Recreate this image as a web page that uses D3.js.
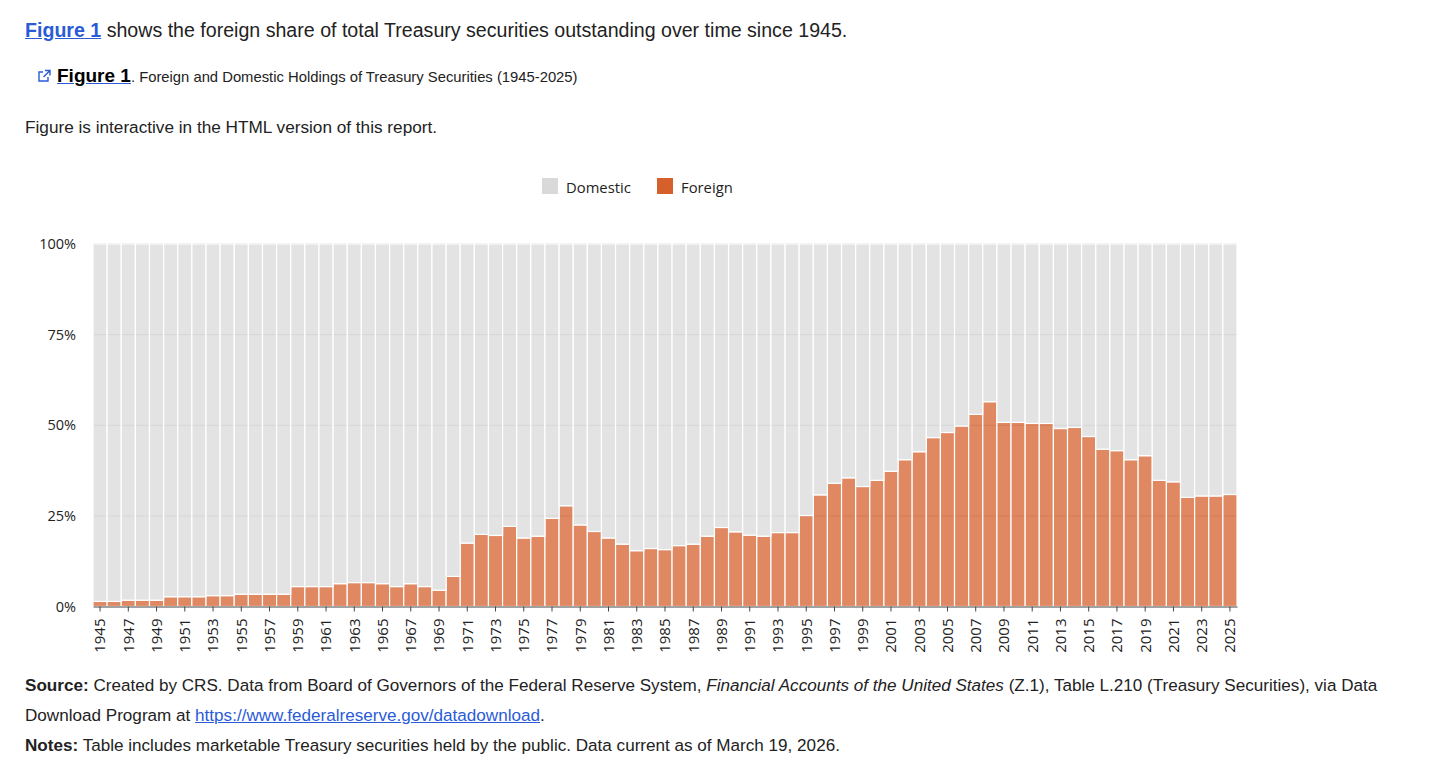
<!DOCTYPE html>
<html>
<head>
<meta charset="utf-8">
<script src="https://cdn.jsdelivr.net/npm/d3@7"></script>
<style>
  body { margin: 0; background: #fff; font-family: "Liberation Sans", Arial, sans-serif; color: #222; }
  .txt { position: absolute; white-space: nowrap; }
  a { color: #2a5bd7; text-decoration: underline; }
  #chart { position: absolute; left: 0; top: 0; }
</style>
</head>
<body>
<div class="txt" style="left:25px; top:19px; font-size:19.6px;"><a href="#"><b style="font-weight:bold">Figure 1</b></a> shows the foreign share of total Treasury securities outstanding over time since 1945.</div>
<div class="txt" style="left:37px; top:65px; font-size:14.8px;">
  <svg width="15" height="14" style="vertical-align:-1px; margin-right:5px" viewBox="0 0 15 14">
    <path d="M6 3 H2 V12 H11 V8" fill="none" stroke="#2a5bd7" stroke-width="1.4"/>
    <path d="M8 1.5 H13 V6.5 M13 1.5 L6.5 8" fill="none" stroke="#2a5bd7" stroke-width="1.4"/>
  </svg><a href="#" style="color:#000; text-decoration-color:#2a5bd7;"><b style="font-size:19px;">Figure 1</b></a>. Foreign and Domestic Holdings of Treasury Securities (1945-2025)</div>
<div class="txt" style="left:25px; top:117px; font-size:17.2px;">Figure is interactive in the HTML version of this report.</div>

<svg id="chart" width="1429" height="765"></svg>

<div class="txt" style="left:25px; top:676px; font-size:17.1px;"><b>Source:</b> Created by CRS. Data from Board of Governors of the Federal Reserve System, <i>Financial Accounts of the United States</i> (Z.1), Table L.210 (Treasury Securities), via Data</div>
<div class="txt" style="left:25px; top:706px; font-size:17.1px;">Download Program at <a href="#">https://www.federalreserve.gov/datadownload</a>.</div>
<div class="txt" style="left:25px; top:736px; font-size:17.1px;"><b>Notes:</b> Table includes marketable Treasury securities held by the public. Data current as of March 19, 2026.</div>

<script>
// share of Treasury securities held, percent
const years = d3.range(1945, 2026);

const foreign = [
  1.4, 1.4, 1.75, 1.75, 1.75, 2.7, 2.7, 2.7, 3.0, 3.0,
  3.4, 3.4, 3.4, 3.4, 5.5, 5.5, 5.5, 6.3, 6.6, 6.6,
  6.3, 5.5, 6.3, 5.5, 4.5, 8.3, 17.5, 19.9, 19.6, 22.1,
  18.9, 19.4, 24.3, 27.8, 22.5, 20.7, 18.9, 17.2, 15.4, 16.0,
  15.7, 16.8, 17.2, 19.4, 21.8, 20.6, 19.7, 19.4, 20.4, 20.4,
  25.1, 30.8, 34.0, 35.5, 33.1, 34.8, 37.3, 40.5, 42.7, 46.6,
  48.0, 49.8, 53.0, 56.5, 50.8, 50.8, 50.5, 50.5, 49.1, 49.4,
  46.9, 43.4, 43.0, 40.5, 41.6, 34.8, 34.4, 30.1, 30.5, 30.5,
  30.9
];

const domestic = [
  98.6, 98.6, 98.25, 98.25, 98.25, 97.3, 97.3, 97.3, 97.0, 97.0,
  96.6, 96.6, 96.6, 96.6, 94.5, 94.5, 94.5, 93.7, 93.4, 93.4,
  93.7, 94.5, 93.7, 94.5, 95.5, 91.7, 82.5, 80.1, 80.4, 77.9,
  81.1, 80.6, 75.7, 72.2, 77.5, 79.3, 81.1, 82.8, 84.6, 84.0,
  84.3, 83.2, 82.8, 80.6, 78.2, 79.4, 80.3, 80.6, 79.6, 79.6,
  74.9, 69.2, 66.0, 64.5, 66.9, 65.2, 62.7, 59.5, 57.3, 53.4,
  52.0, 50.2, 47.0, 43.5, 49.2, 49.2, 49.5, 49.5, 50.9, 50.6,
  53.1, 56.6, 57.0, 59.5, 58.4, 65.2, 65.6, 69.9, 69.5, 69.5,
  69.1
];

const seriesNames = ["Foreign", "Domestic"];
const yTicks = [0, 25, 50, 75, 100];

const colors = { Foreign: "#d6602c", Domestic: "#d9d9d9" };
const chartFont = "'Open Sans', sans-serif";

const rows = years.map((y, i) => ({ year: y, Foreign: foreign[i], Domestic: domestic[i] }));

const svg = d3.select("#chart");
const margin = { left: 93, right: 1237, top: 244, bottom: 606.5 };

const x = d3.scaleBand()
  .domain(years)
  .range([margin.left, margin.right])
  .paddingInner(0)
  .paddingOuter(0);

const y = d3.scaleLinear()
  .domain([0, 100])
  .range([margin.bottom, margin.top]);

// gridlines sit behind the translucent bars
svg.append("g")
  .selectAll("line")
  .data(yTicks)
  .join("line")
  .attr("x1", margin.left)
  .attr("x2", margin.right)
  .attr("y1", d => y(d))
  .attr("y2", d => y(d))
  .attr("stroke", "#c8c8c8")
  .attr("stroke-width", 1);

const stacked = d3.stack().keys(seriesNames)(rows);

svg.append("g")
  .selectAll("g")
  .data(stacked)
  .join("g")
  .attr("fill", d => colors[d.key])
  .attr("fill-opacity", 0.75)
  .selectAll("rect")
  .data(d => d)
  .join("rect")
  .attr("x", d => x(d.data.year))
  .attr("width", x.bandwidth())
  .attr("y", d => y(d[1]))
  .attr("height", d => y(d[0]) - y(d[1]))
  .attr("stroke", "#fff")
  .attr("stroke-width", 1.2);

// x axis, every other year
const xAxis = svg.append("g")
  .attr("transform", `translate(0,${margin.bottom})`)
  .call(d3.axisBottom(x)
    .tickValues(years.filter(d => d % 2 === 1))
    .tickSize(5)
    .tickSizeOuter(0));

xAxis.select(".domain").attr("stroke", "#444");
xAxis.selectAll(".tick line").attr("stroke", "#444");
xAxis.selectAll(".tick text")
  .attr("transform", "rotate(-90)")
  .attr("x", -12)
  .attr("y", 0)
  .attr("dy", "0.36em")
  .style("text-anchor", "end")
  .style("font-family", chartFont)
  .style("font-size", "15px")
  .style("fill", "#222");

// y labels only
const yAxis = svg.append("g")
  .attr("transform", "translate(76,0)")
  .call(d3.axisLeft(y)
    .tickValues(yTicks)
    .tickSize(0)
    .tickFormat(d => d + "%"));
yAxis.select(".domain").remove();
yAxis.selectAll("text")
  .attr("x", 0)
  .style("font-family", chartFont)
  .style("font-size", "14.5px")
  .style("fill", "#222");

// legend
const legend = svg.append("g")
  .selectAll("g")
  .data(["Domestic", "Foreign"])
  .join("g")
  .attr("transform", (d, i) => `translate(${542 + i * 115},178)`);

legend.append("rect")
  .attr("width", 16)
  .attr("height", 16)
  .attr("fill", d => colors[d]);

legend.append("text")
  .attr("x", 24)
  .attr("y", 15)
  .style("font-family", chartFont)
  .style("font-size", "14.8px")
  .style("fill", "#222")
  .text(d => d);
</script>
</body>
</html>
